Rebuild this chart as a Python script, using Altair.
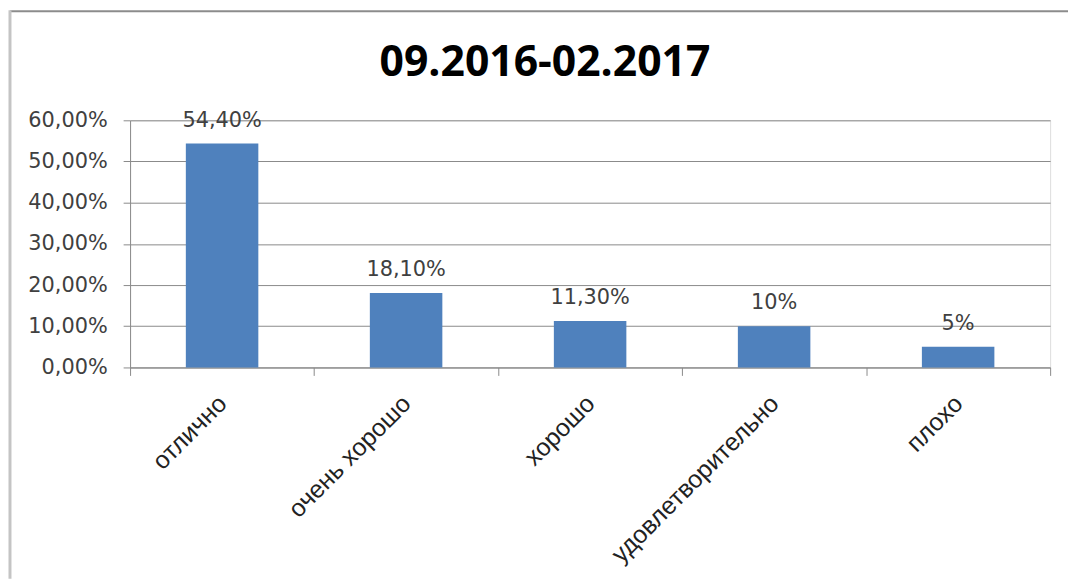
import altair as alt
import pandas as pd

categories = ["отлично", "очень хорошо", "хорошо", "удовлетворительно", "плохо"]
values = [0.544, 0.181, 0.113, 0.10, 0.05]
value_labels = ["54,40%", "18,10%", "11,30%", "10%", "5%"]
y_ticks = [0, 0.1, 0.2, 0.3, 0.4, 0.5, 0.6]
title_text = "09.2016-02.2017"

df = pd.DataFrame({"cat": categories, "val": values, "lab": value_labels})

W, H = 927, 249

x_enc = alt.X(
    "cat:N",
    sort=categories,
    scale=alt.Scale(paddingInner=0, paddingOuter=0),
    axis=alt.Axis(
        title=None,
        labelAngle=-45,
        labelAlign="right",
        labelBaseline="middle",
        labelFont="Liberation Sans",
        labelFontSize=25,
        labelColor="#222222",
        labelPadding=24,
        tickBand="extent",
        tickSize=8,
        tickColor="#8a8a8a",
        domainColor="#8a8a8a",
        labelOverlap=False,
        labelLimit=400,
    ),
)

y_enc = alt.Y(
    "val:Q",
    scale=alt.Scale(domain=[0, 0.6], nice=False),
    axis=alt.Axis(
        title=None,
        values=y_ticks,
        labelExpr="replace(format(datum.value, '.2%'), '.', ',')",
        labelFont="DejaVu Sans",
        labelFontSize=21,
        labelColor="#404040",
        labelPadding=16,
        tickSize=7,
        tickColor="#8a8a8a",
        domainColor="#8a8a8a",
        gridColor="#8a8a8a",
        grid=True,
    ),
)

bars = alt.Chart(df).mark_bar(color="#4F81BD", width={"band": 0.394}).encode(x=x_enc, y=y_enc)

texts = alt.Chart(df).mark_text(
    font="DejaVu Sans", fontSize=21, color="#404040", baseline="alphabetic", dy=-17
).encode(x=alt.X("cat:N", sort=categories), y="val:Q", text="lab:N")

one = pd.DataFrame({"a": [0]})
title_mark = alt.Chart(one).mark_text(
    text=title_text,
    font="Open Sans",
    fontSize=43,
    fontWeight="bold",
    color="#000000",
    align="center",
    baseline="alphabetic",
).encode(x=alt.value(418), y=alt.value(-45))

top_line = alt.Chart(one).mark_rule(color="#8c8c8c", strokeWidth=2).encode(
    x=alt.value(-121), x2=alt.value(W + 18), y=alt.value(-110)
)
left_line = alt.Chart(one).mark_rule(color="#c4c4c4", strokeWidth=3).encode(
    x=alt.value(-121), y=alt.value(-111), y2=alt.value(H + 213)
)

chart = (
    alt.layer(bars, texts, title_mark, top_line, left_line)
    .properties(
        width=W,
        height=H,
        autosize=alt.AutoSizeParams(type="none"),
        padding={"left": 123, "top": 111, "right": 18, "bottom": 213},
    )
    .configure_view(stroke=None)
    .configure(background="white")
)

chart.save("out.html", embed_options={"renderer": "svg", "actions": False})
